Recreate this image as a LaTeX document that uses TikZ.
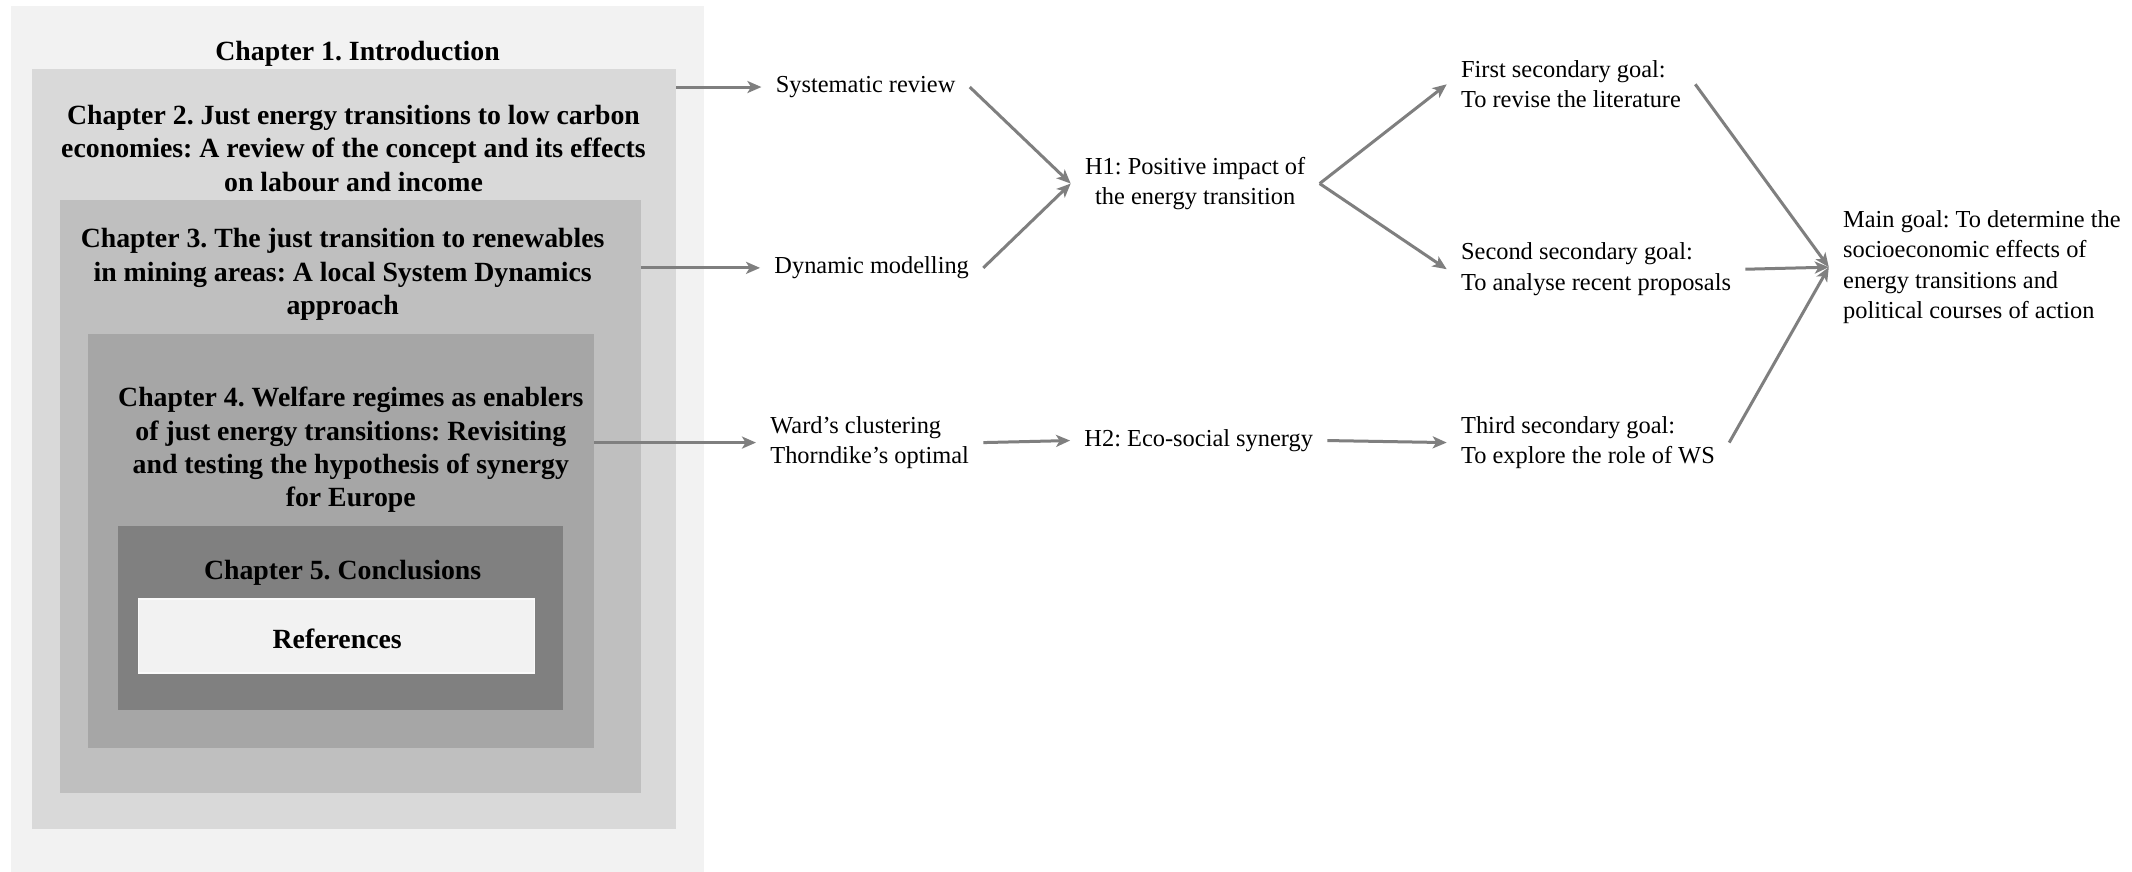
\documentclass[tikz,border=0pt]{standalone}
\usepackage{fontspec}
\setmainfont{Liberation Serif}
\usetikzlibrary{arrows.meta,fit}
\frenchspacing

\definecolor{shadeA}{HTML}{F2F2F2}
\definecolor{shadeB}{HTML}{D9D9D9}
\definecolor{shadeC}{HTML}{BFBFBF}
\definecolor{shadeD}{HTML}{A6A6A6}
\definecolor{shadeE}{HTML}{808080}
\definecolor{linkgray}{HTML}{7F7F7F}

\begin{document}
\begin{tikzpicture}[x=0.68pt,y=-0.68pt,
  panel/.style={inner sep=0pt, outer sep=0pt, draw=none},
  chtitle/.style={font=\fontsize{13.9}{16.7}\selectfont\bfseries, align=center, inner sep=0pt},
  lbl/.style={font=\fontsize{12.2}{15.2}\selectfont, inner xsep=7pt, inner ysep=2pt, align=left},
  arr/.style={draw=linkgray, line width=1.5pt, -{Stealth[length=7pt,width=6pt,inset=1.8pt]}}
]
\useasboundingbox (0,0) rectangle (1568,641);
\fill[white] (0,0) rectangle (1568,641);

% nested chapter panels
\node[panel, fill=shadeA, fit={(8,4.4) (517.6,641)}] (ch1box) {};
\node[panel, fill=shadeB, fit={(23.3,50.7) (497.5,610)}] (ch2box) {};
\node[panel, fill=shadeC, fit={(44.2,147) (471.4,583)}] (ch3box) {};
\node[panel, fill=shadeD, fit={(64.5,246) (437,550)}] (ch4box) {};
\node[panel, fill=shadeE, fit={(87,387) (414,522)}] (ch5box) {};
\node[panel, fill=shadeA, draw=white!60!shadeA, line width=0.6pt, fit={(102,440.5) (393,495)}] (refbox) {};

% chapter titles
\node[chtitle] (ch1t) at (263,39.5) {Chapter 1. Introduction};
\node[chtitle] (ch2t) at (260,109) {Chapter 2. Just energy transitions to low carbon\\economies: A review of the concept and its effects\\on labour and income};
\node[chtitle] (ch3t) at (252,202) {Chapter 3. The just transition to renewables\\in mining areas: A local System Dynamics\\approach};
\node[chtitle] (ch4t) at (258,331) {Chapter 4. Welfare regimes as enablers\\of just energy transitions: Revisiting\\and testing the hypothesis of synergy\\for Europe};
\node[chtitle] (ch5t) at (252,421.5) {Chapter 5. Conclusions};
\node[chtitle] (reft) at (248,470) {References};

% methods
\node[lbl, anchor=west] (sysrev) at (560,64) {Systematic review};
\node[lbl, anchor=west] (dynmod) at (559,197) {Dynamic modelling};
\node[lbl, anchor=west] (ward) at (556,325.5) {Ward’s clustering\\Thorndike’s optimal};

% hypotheses
\node[lbl, align=center] (h1) at (879,135) {H1: Positive impact of\\the energy transition};
\node[lbl, anchor=west] (h2) at (787,324) {H2: Eco-social synergy};

% goals
\node[lbl, anchor=west] (g1) at (1064,62) {First secondary goal:\\To revise the literature};
\node[lbl, anchor=west] (g2) at (1064,198) {Second secondary goal:\\To analyse recent proposals};
\node[lbl, anchor=west] (g3) at (1064,325.5) {Third secondary goal:\\To explore the role of WS};
\node[lbl, anchor=west] (main) at (1345,196.5) {Main goal: To determine the\\socioeconomic effects of\\energy transitions and\\political courses of action};

% connectors
\draw[arr] (ch2box.east |- sysrev.west) -- (sysrev.west);
\draw[arr] (ch3box.east |- dynmod.west) -- (dynmod.west);
\draw[arr] (ch4box.east |- ward.west) -- (ward.west);
\draw[arr] (sysrev.east) -- (h1.west);
\draw[arr] (dynmod.east) -- (h1.west);
\draw[arr] (h1.east) -- (g1.west);
\draw[arr] (h1.east) -- (g2.west);
\draw[arr] (ward.east) -- (h2.west);
\draw[arr] (h2.east) -- (g3.west);
\draw[arr] (g1.east) -- (main.west);
\draw[arr] (g2.east) -- (main.west);
\draw[arr] (g3.east) -- (main.west);
\end{tikzpicture}
\end{document}
